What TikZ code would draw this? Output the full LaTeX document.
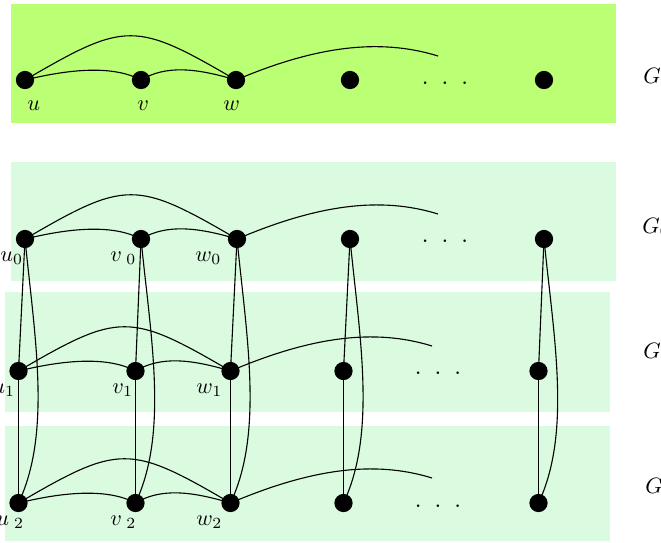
\documentclass[tikz,border=0pt]{standalone}
\definecolor{topband}{RGB}{187,255,117}
\definecolor{lowband}{RGB}{218,251,224}
\begin{document}
\begin{tikzpicture}[x=0.45pt,y=-0.45pt,
  vtx/.style={circle,fill=black,inner sep=0pt,minimum size=8.2pt},
  edge/.style={line width=0.5pt},
  lab/.style={anchor=base west,inner sep=0pt},
  dotsn/.style={anchor=base,inner sep=0pt,font=\large}]
\path[use as bounding box, clip] (0,0) rectangle (661,542);
% bands
\fill[topband] (11,4) rectangle (616,123);
\fill[lowband] (11,162) rectangle (616,281);
\fill[lowband] (5,292) rectangle (610,412);
\fill[lowband] (5,426) rectangle (610,541);
% vertices
\node[vtx] (u) at (25,80) {};
\node[vtx] (v) at (141,80) {};
\node[vtx] (w) at (236,80) {};
\node[vtx] (x) at (350,80) {};
\node[vtx] (z) at (544,80) {};
\node[vtx] (u0) at (25,239) {};
\node[vtx] (v0) at (141,239) {};
\node[vtx] (w0) at (237,239) {};
\node[vtx] (x0) at (350,239) {};
\node[vtx] (z0) at (544,239) {};
\node[vtx] (u1) at (18.5,371) {};
\node[vtx] (v1) at (135.5,371) {};
\node[vtx] (w1) at (230.5,371) {};
\node[vtx] (x1) at (343.5,371) {};
\node[vtx] (z1) at (538.5,371) {};
\node[vtx] (u2) at (18.5,503) {};
\node[vtx] (v2) at (135.5,503) {};
\node[vtx] (w2) at (230.5,503) {};
\node[vtx] (x2) at (343.5,503) {};
\node[vtx] (z2) at (538.5,503) {};
% free ends
\coordinate (e) at (438,56);
\coordinate (e0) at (438,214);
\coordinate (e1) at (432,346);
\coordinate (e2) at (432,478);
% dots
\node[dotsn] (d) at (445,84.5) {.\hspace{5.67pt}.\hspace{5.67pt}.};
\node[dotsn] (d0) at (445,242.5) {.\hspace{5.67pt}.\hspace{5.67pt}.};
\node[dotsn] (d1) at (438,374.5) {.\hspace{5.67pt}.\hspace{5.67pt}.};
\node[dotsn] (d2) at (438,507) {.\hspace{5.67pt}.\hspace{5.67pt}.};
% row edges
\foreach \r in {,0,1,2}{
  \draw[edge] (u\r.center) .. controls +(45,-11) and +(-28,-15) .. (v\r.center);
  \draw[edge] (v\r.center) .. controls +(25,-15) and +(-40,-12) .. (w\r.center);
  \draw[edge] (u\r.center) .. controls +(101,-59) and +(-101,-59) .. (w\r.center);
  \draw[edge] (w\r.center) .. controls +(80,-34) and +(-58,-18) .. (e\r);
}
% column edges
\foreach \col in {u,v,w,x,z}{
  \draw[edge] (\col0.center) -- (\col1.center);
  \draw[edge] (\col1.center) -- (\col2.center);
  \draw[edge] (\col0.center) .. controls +(10,100) and +(33,-70) .. (\col2.center);
}
% labels
\node[lab] (lu) at (27,110) {$u$};
\node[lab] (lv) at (137,110) {$v$};
\node[lab] (lw) at (223,110) {$w$};
\node[lab] (lu0) at (0,261) {$u_0$};
\node[lab] (lv0) at (110,261) {$v_{\;0}$};
\node[lab] (lw0) at (195,261) {$w_0$};
\node[lab] (lu1) at (-8,393) {$u_1$};
\node[lab] (lv1) at (112,393) {$v_1$};
\node[lab] (lw1) at (196,393) {$w_1$};
\node[lab] (lu2) at (-4,525) {$u_{\;2}$};
\node[lab] (lv2) at (110,525) {$v_{\;2}$};
\node[lab] (lw2) at (196,525) {$w_2$};
\node[lab] (g) at (643,83) {$G$};
\node[lab] (g0) at (642,233) {$G_0$};
\node[lab] (g1) at (643,358) {$G_1$};
\node[lab] (g2) at (645,493) {$G_2$};
\end{tikzpicture}
\end{document}
